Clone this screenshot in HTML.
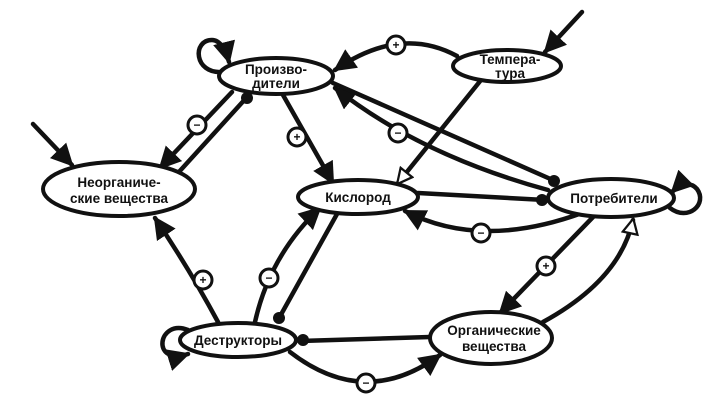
<!DOCTYPE html>
<html><head><meta charset="utf-8"><style>
html,body{margin:0;padding:0;background:#fff}
svg{display:block}
text{font-family:"Liberation Sans","DejaVu Sans",sans-serif;font-weight:bold;font-size:13.5px;fill:#111}
.e{fill:#fff;stroke:#111;stroke-width:4}
.l{fill:none;stroke:#111;stroke-width:4.5;stroke-linecap:round}
.c{fill:#fff;stroke:#111;stroke-width:3}
.s{font-size:12px}
</style></head><body>
<svg width="712" height="403" viewBox="0 0 712 403" xmlns="http://www.w3.org/2000/svg">
<defs>
<marker id="a" viewBox="0 0 10 10" refX="9" refY="5" markerWidth="5" markerHeight="5" orient="auto" markerUnits="strokeWidth"><path d="M0,0 L10,5 L0,10 Z" fill="#111"/></marker>
<marker id="w" viewBox="0 0 12 12" refX="10" refY="6" markerWidth="4" markerHeight="4" orient="auto" markerUnits="strokeWidth"><path d="M1,1 L11,6 L1,11 Z" fill="#fff" stroke="#111" stroke-width="1.5"/></marker>
</defs>
<!-- edges -->
<path class="l" d="M222,72 C194,74 192,40 212,40 C220,40 226,50 229,62" marker-end="url(#a)"/>
<path class="l" d="M33,124 L72,165" marker-end="url(#a)"/>
<path class="l" d="M232,92 L160,168" marker-end="url(#a)"/>
<path class="l" d="M178,173 L248,96"/>
<path class="l" d="M283,95 L333,183" marker-end="url(#a)"/>
<path class="l" d="M457,56 Q400,25 335,70" marker-end="url(#a)"/>
<path class="l" d="M582,12 L545,52" marker-end="url(#a)"/>
<path class="l" d="M481,80 L398,183" marker-end="url(#w)"/>
<path class="l" d="M548,190 Q420,155 335,88" marker-end="url(#a)"/>
<path class="l" d="M333,83 L555,181"/>
<path class="l" d="M418,193 L545,200"/>
<path class="l" d="M582,213 Q480,250 405,211" marker-end="url(#a)"/>
<path class="l" d="M670,208 C688,222 708,204 697,189 C690,181 680,184 672,192" marker-end="url(#a)"/>
<path class="l" d="M595,215 L500,313" marker-end="url(#a)"/>
<path class="l" d="M543,322 Q620,280 633,220" marker-end="url(#w)"/>
<path class="l" d="M218,322 Q190,270 155,218" marker-end="url(#a)"/>
<path class="l" d="M255,322 Q270,255 320,208" marker-end="url(#a)"/>
<path class="l" d="M337,214 L278,320"/>
<path class="l" d="M430,337 L300,341"/>
<path class="l" d="M290,352 Q365,410 440,355" marker-end="url(#a)"/>
<path class="l" d="M188,330 C158,318 150,366 188,354" marker-end="url(#a)"/>
<!-- nodes -->
<ellipse class="e" cx="276" cy="76" rx="57" ry="18"/>
<text x="276" y="74" text-anchor="middle">Произво-</text>
<text x="276" y="88" text-anchor="middle">дители</text>
<ellipse class="e" cx="507" cy="66" rx="54" ry="16"/>
<text x="510" y="64" text-anchor="middle">Темпера-</text>
<text x="510" y="78" text-anchor="middle">тура</text>
<ellipse class="e" cx="119" cy="189" rx="76" ry="27"/>
<text x="119" y="187" text-anchor="middle">Неорганиче-</text>
<text x="119" y="203" text-anchor="middle">ские вещества</text>
<ellipse class="e" cx="358" cy="197" rx="60" ry="17"/>
<text x="358" y="202" text-anchor="middle">Кислород</text>
<ellipse class="e" cx="611" cy="198" rx="63" ry="19"/>
<text x="614" y="203" text-anchor="middle">Потребители</text>
<ellipse class="e" cx="238" cy="340" rx="58" ry="17"/>
<text x="238" y="345" text-anchor="middle">Деструкторы</text>
<ellipse class="e" cx="491" cy="338" rx="61" ry="26"/>
<text x="494" y="335" text-anchor="middle">Органические</text>
<text x="494" y="351" text-anchor="middle">вещества</text>
<!-- signs -->
<g>
<circle class="c" cx="197" cy="125" r="9"/><text class="s" x="197" y="129" text-anchor="middle">−</text>
<circle class="c" cx="297" cy="137" r="9"/><text class="s" x="297" y="141" text-anchor="middle">+</text>
<circle class="c" cx="396" cy="45" r="9"/><text class="s" x="396" y="49" text-anchor="middle">+</text>
<circle class="c" cx="398" cy="133" r="9"/><text class="s" x="398" y="137" text-anchor="middle">−</text>
<circle class="c" cx="481" cy="233" r="9"/><text class="s" x="481" y="237" text-anchor="middle">−</text>
<circle class="c" cx="546" cy="266" r="9"/><text class="s" x="546" y="270" text-anchor="middle">+</text>
<circle class="c" cx="203" cy="280" r="9"/><text class="s" x="203" y="284" text-anchor="middle">+</text>
<circle class="c" cx="269" cy="278" r="9"/><text class="s" x="269" y="282" text-anchor="middle">−</text>
<circle class="c" cx="366" cy="383" r="9"/><text class="s" x="366" y="387" text-anchor="middle">−</text>
</g>
<g fill="#111">
<circle cx="247" cy="98" r="6"/>
<circle cx="554" cy="181" r="6"/>
<circle cx="542" cy="200" r="6"/>
<circle cx="279" cy="318" r="6"/>
<circle cx="303" cy="340" r="6"/>
</g>
</svg>
</body></html>
